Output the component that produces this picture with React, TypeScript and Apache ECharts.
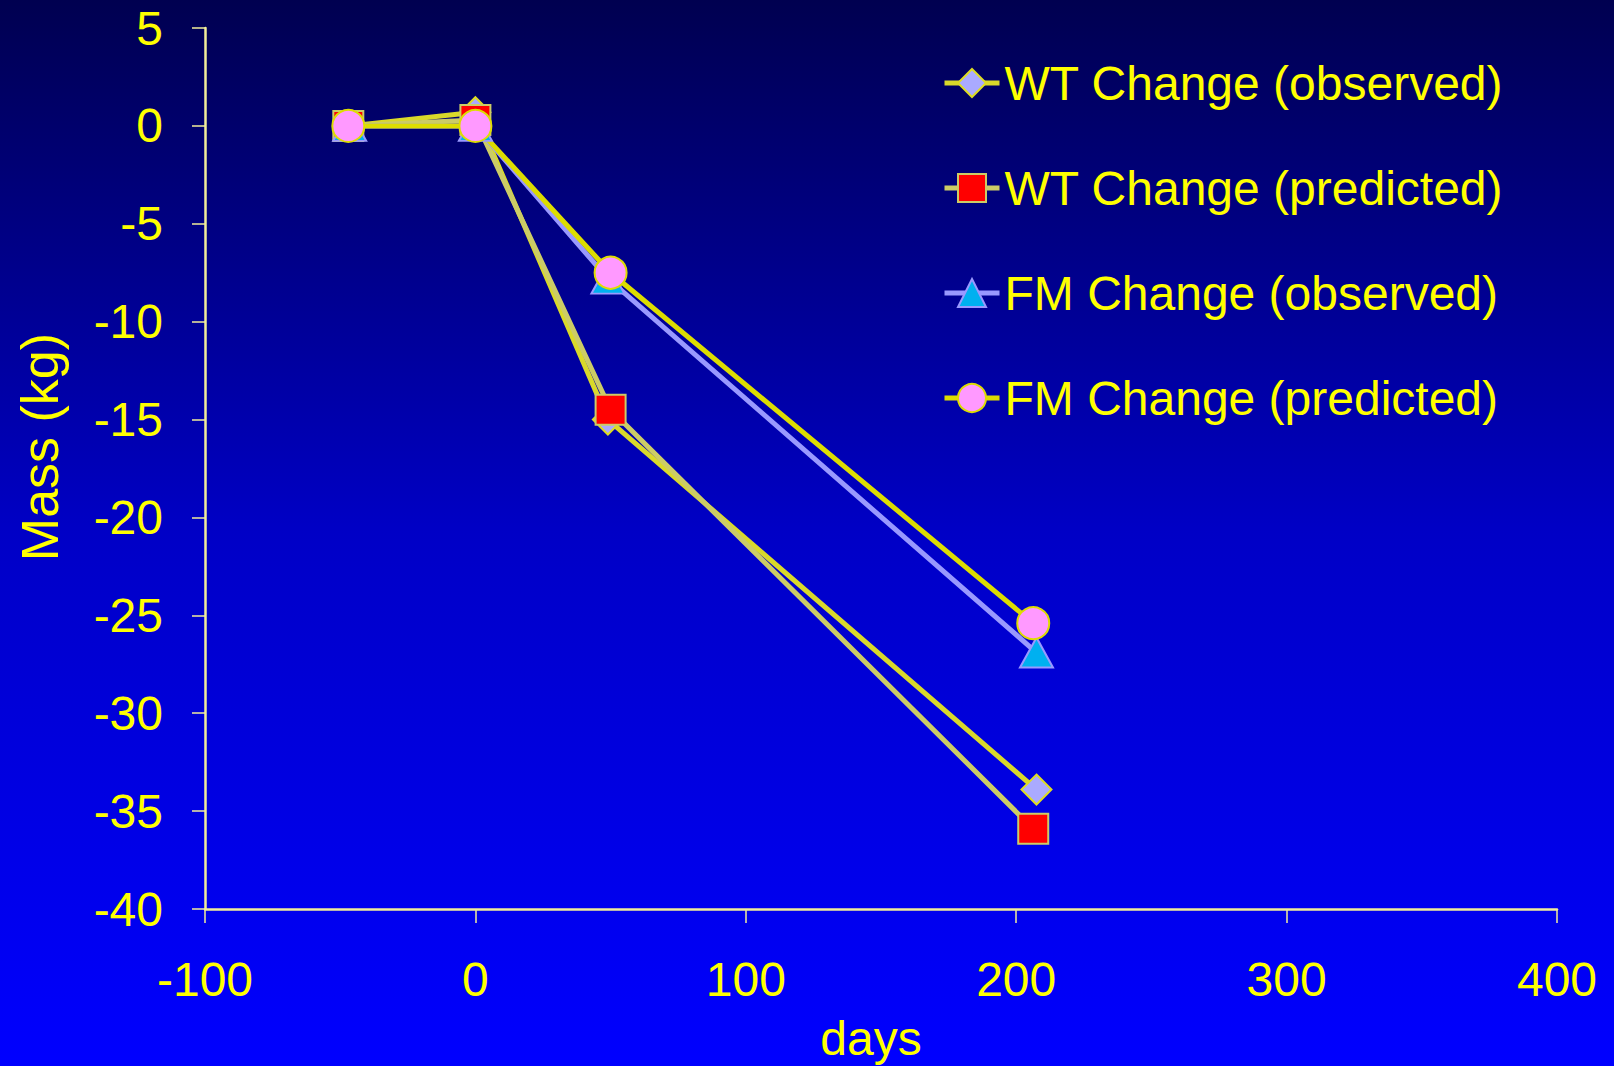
import React, { useEffect, useRef } from "react";
import * as echarts from "echarts";

// Days since baseline for each measurement
const daysObserved = [-46.5, 0, 49, 207.5];
const daysPredicted = [-47, 0, 50, 206.3];

// Mass change (kg)
const wtObserved = [0, 0.7, -15, -33.9];
const wtPredicted = [0, 0.3, -14.5, -35.9];
const fmObserved = [0, 0, -7.8, -26.9];
const fmPredicted = [0, 0, -7.5, -25.4];

const seriesNames = [
  "WT Change (observed)",
  "WT Change (predicted)",
  "FM Change (observed)",
  "FM Change (predicted)",
];

const xTicks = { min: -100, max: 400, interval: 100 };
const yTicks = { min: -40, max: 5, interval: 5 };

const FONT = "'Liberation Sans', Arial, sans-serif";
const YELLOW = "#ffff00";
const AXIS = "#f2ee9a";

const pairs = (xs: number[], ys: number[]) => xs.map((x, i) => [x, ys[i]]);

export default function App() {
  const ref = useRef<HTMLDivElement>(null);

  useEffect(() => {
    if (!ref.current) return;
    const chart = echarts.init(ref.current, undefined, { renderer: "svg" });

    const lineSeries = (
      name: string,
      data: number[][],
      symbol: string,
      symbolSize: number | number[],
      lineColor: string,
      fill: string,
      border: string
    ) => ({
      name,
      type: "line",
      data,
      symbol,
      symbolSize,
      showAllSymbol: true,
      lineStyle: { color: lineColor, width: 5 },
      itemStyle: { color: fill, borderColor: border, borderWidth: 2 },
      emphasis: { disabled: true },
      z: 2,
    });

    chart.setOption({
      animation: false,
      backgroundColor: new echarts.graphic.LinearGradient(0, 0, 0, 1, [
        { offset: 0, color: "#000050" },
        { offset: 0.5, color: "#0000c6" },
        { offset: 1, color: "#0000ff" },
      ]),
      textStyle: { fontFamily: FONT },
      grid: { left: 205, right: 57, top: 28, bottom: 157 },
      xAxis: {
        type: "value",
        min: xTicks.min,
        max: xTicks.max,
        interval: xTicks.interval,
        axisLine: { onZero: false, lineStyle: { color: AXIS, width: 2.5 } },
        axisTick: { show: true, length: 14, lineStyle: { color: AXIS, width: 1.5 } },
        splitLine: { show: false },
        axisLabel: { color: YELLOW, fontSize: 48, fontFamily: FONT, margin: 46 },
      },
      yAxis: {
        type: "value",
        min: yTicks.min,
        max: yTicks.max,
        interval: yTicks.interval,
        axisLine: { show: true, onZero: false, lineStyle: { color: AXIS, width: 2.5 } },
        axisTick: { show: true, length: 13, lineStyle: { color: AXIS, width: 1.5 } },
        splitLine: { show: false },
        axisLabel: { color: YELLOW, fontSize: 48, fontFamily: FONT, margin: 42 },
      },
      legend: {
        orient: "vertical",
        left: 942,
        top: 55,
        padding: 0,
        itemWidth: 55,
        itemHeight: 35,
        itemGap: 49,
        data: seriesNames,
        lineStyle: { width: 5 },
        textStyle: { color: YELLOW, fontSize: 48, fontFamily: FONT, lineHeight: 56 },
        selectedMode: false,
      },
      graphic: [
        {
          type: "text",
          x: 40,
          y: 447,
          rotation: Math.PI / 2,
          style: {
            text: "Mass (kg)",
            fill: YELLOW,
            font: `52px ${FONT}`,
            align: "center",
            verticalAlign: "middle",
          },
        },
        {
          type: "text",
          x: 871,
          y: 1038,
          style: {
            text: "days",
            fill: YELLOW,
            font: `48px ${FONT}`,
            align: "center",
            verticalAlign: "middle",
          },
        },
      ],
      series: [
        lineSeries(seriesNames[0], pairs(daysObserved, wtObserved), "diamond", [30, 30], "#d9d92a", "#aaaaff", "#dddd22"),
        lineSeries(seriesNames[1], pairs(daysPredicted, wtPredicted), "rect", 30, "#cccc66", "#ff0000", "#cccc66"),
        lineSeries(seriesNames[2], pairs(daysObserved, fmObserved), "triangle", [33, 30], "#9999ff", "#00b0f0", "#9999ff"),
        lineSeries(seriesNames[3], pairs(daysPredicted, fmPredicted), "circle", 32, "#dddd00", "#ff99ff", "#dddd00"),
      ],
    });

    return () => chart.dispose();
  }, []);

  return (
    <div
      ref={ref}
      style={{ position: "fixed", left: 0, top: 0, width: 1614, height: 1066 }}
    />
  );
}
